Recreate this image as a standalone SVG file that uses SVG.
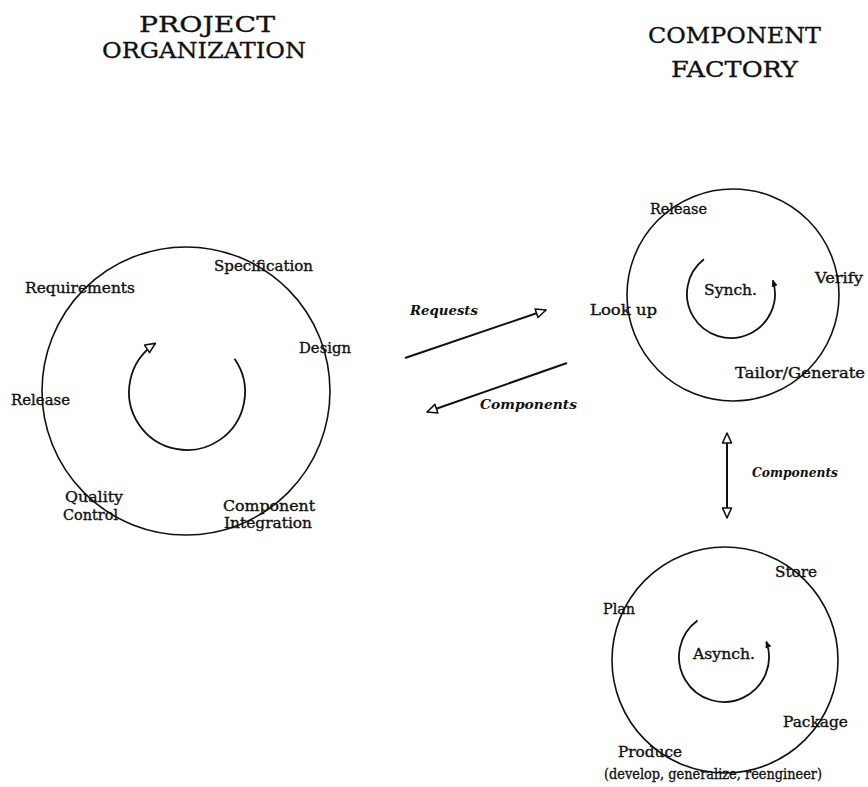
<svg xmlns="http://www.w3.org/2000/svg" width="868" height="787" viewBox="0 0 868 787">
  <style>
    .title { font-family: "DejaVu Serif", "Liberation Serif", serif; font-size: 22px; fill: #111; stroke: #111; stroke-width: 0.3; }
    .lbl { font-family: "DejaVu Serif", "Liberation Serif", serif; font-size: 14px; fill: #111; stroke: #111; stroke-width: 0.35; }
    .flow { font-family: "DejaVu Serif", "Liberation Serif", serif; font-size: 12px; font-style: italic; font-weight: bold; fill: #111; }
    .ring { fill: none; stroke: #111; stroke-width: 1.6; }
    .cycle { fill: none; stroke: #111; stroke-width: 1.8; }
    .link { fill: none; stroke: #111; stroke-width: 2; }
  </style>
  <defs>
    <marker id="open" viewBox="0 0 12 12" refX="11" refY="6" markerWidth="12" markerHeight="12" markerUnits="userSpaceOnUse" orient="auto-start-reverse">
      <path d="M1,1.5 L11,6 L1,10.5 Z" fill="#fff" stroke="#111" stroke-width="1.6" stroke-linejoin="round"/>
    </marker>
    <marker id="dart" viewBox="0 0 8 8" refX="7" refY="4" markerWidth="7" markerHeight="7" markerUnits="userSpaceOnUse" orient="auto">
      <path d="M0,0.5 L8,4 L0,7.5 Z" fill="#111"/>
    </marker>
  </defs>
  <rect width="868" height="787" fill="#fff"/>

  <!-- column headings -->
  <text class="title" x="139" y="32" textLength="136" lengthAdjust="spacingAndGlyphs">PROJECT</text>
  <text class="title" x="102" y="58" textLength="204" lengthAdjust="spacingAndGlyphs">ORGANIZATION</text>
  <text class="title" x="648" y="43" textLength="173" lengthAdjust="spacingAndGlyphs">COMPONENT</text>
  <text class="title" x="671" y="77" textLength="127" lengthAdjust="spacingAndGlyphs">FACTORY</text>

  <!-- project organization cycle -->
  <g id="project-organization">
    <circle class="ring" cx="186" cy="391" r="144"/>
    <path class="cycle" d="M234.5,358.7 A58,58 0 1 1 155.4,343.4" marker-end="url(#open)"/>
    <text class="lbl" x="214" y="271" textLength="99" lengthAdjust="spacingAndGlyphs">Specification</text>
    <text class="lbl" x="25" y="293" textLength="110" lengthAdjust="spacingAndGlyphs">Requirements</text>
    <text class="lbl" x="299" y="353" textLength="52" lengthAdjust="spacingAndGlyphs">Design</text>
    <text class="lbl" x="11" y="405" textLength="59" lengthAdjust="spacingAndGlyphs">Release</text>
    <text class="lbl" x="65" y="502" textLength="58" lengthAdjust="spacingAndGlyphs">Quality</text>
    <text class="lbl" x="63" y="520" textLength="55" lengthAdjust="spacingAndGlyphs">Control</text>
    <text class="lbl" x="223" y="511" textLength="92" lengthAdjust="spacingAndGlyphs">Component</text>
    <text class="lbl" x="224" y="528" textLength="88" lengthAdjust="spacingAndGlyphs">Integration</text>
  </g>

  <!-- synchronous factory cycle -->
  <g id="factory-synch">
    <circle class="ring" cx="733" cy="295" r="106"/>
    <path class="cycle" d="M703.9,259.3 A44,44 0 1 0 772.8,280.4" marker-end="url(#dart)"/>
    <text class="lbl" x="650" y="214" textLength="57" lengthAdjust="spacingAndGlyphs">Release</text>
    <text class="lbl" x="815" y="283" textLength="48" lengthAdjust="spacingAndGlyphs">Verify</text>
    <text class="lbl" x="704" y="295" textLength="53" lengthAdjust="spacingAndGlyphs">Synch.</text>
    <text class="lbl" x="590" y="315" textLength="67" lengthAdjust="spacingAndGlyphs">Look up</text>
    <text class="lbl" x="735" y="378" textLength="130" lengthAdjust="spacingAndGlyphs">Tailor/Generate</text>
  </g>

  <!-- asynchronous factory cycle -->
  <g id="factory-asynch">
    <circle class="ring" cx="725" cy="660" r="113"/>
    <path class="cycle" d="M697.5,620.6 A45,45 0 1 0 766.3,641.6" marker-end="url(#dart)"/>
    <text class="lbl" x="775" y="577" textLength="42" lengthAdjust="spacingAndGlyphs">Store</text>
    <text class="lbl" x="603" y="614" textLength="32" lengthAdjust="spacingAndGlyphs">Plan</text>
    <text class="lbl" x="693" y="659" textLength="62" lengthAdjust="spacingAndGlyphs">Asynch.</text>
    <text class="lbl" x="783" y="727" textLength="65" lengthAdjust="spacingAndGlyphs">Package</text>
    <text class="lbl" x="618" y="757" textLength="64" lengthAdjust="spacingAndGlyphs">Produce</text>
    <text class="lbl" x="604" y="779" textLength="218" lengthAdjust="spacingAndGlyphs">(develop, generalize, reengineer)</text>
  </g>

  <!-- flows between the cycles -->
  <g id="connectors">
    <path class="link" d="M405,358 L546,310" marker-end="url(#open)"/>
    <text class="flow" x="410" y="315" textLength="68" lengthAdjust="spacingAndGlyphs">Requests</text>
    <path class="link" d="M567,363 L427,412" marker-end="url(#open)"/>
    <text class="flow" x="480" y="409" textLength="97" lengthAdjust="spacingAndGlyphs">Components</text>
    <path class="link" d="M727,433 L727,518" marker-start="url(#open)" marker-end="url(#open)"/>
    <text class="flow" x="752" y="477" textLength="86" lengthAdjust="spacingAndGlyphs">Components</text>
  </g>
</svg>
